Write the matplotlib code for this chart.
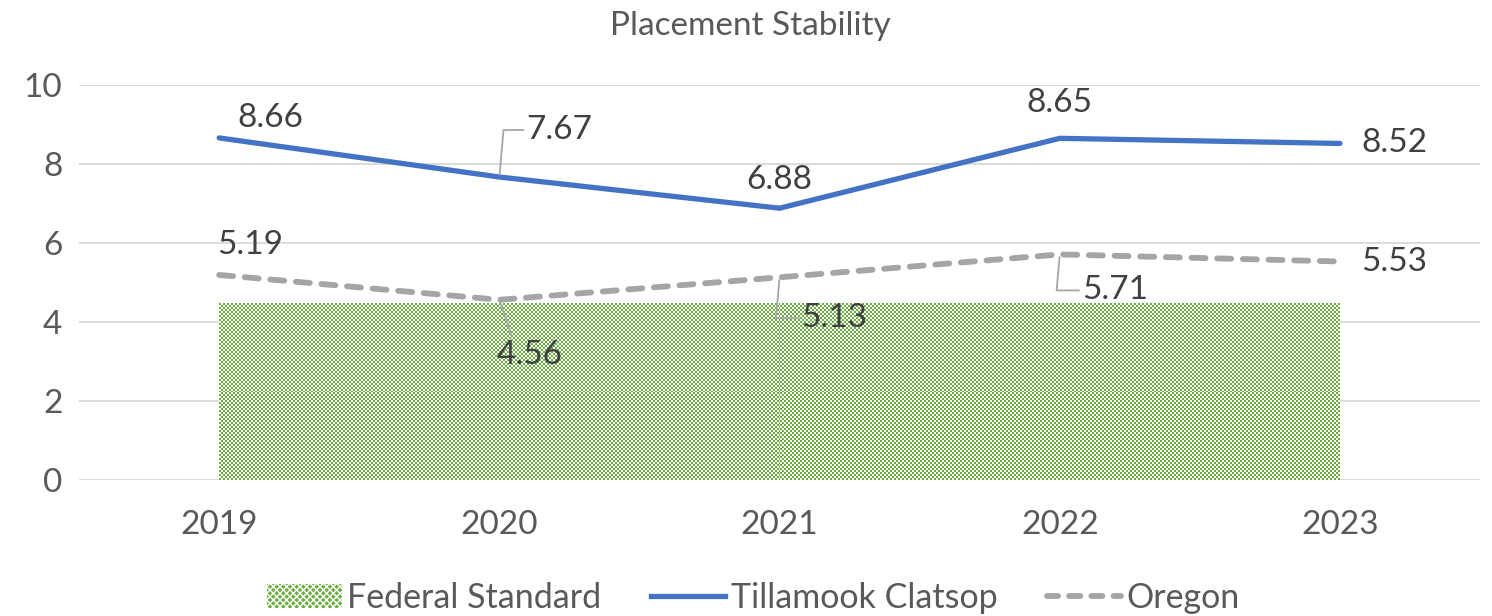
import numpy as np
import matplotlib
matplotlib.use("Agg")
import matplotlib.pyplot as plt
from matplotlib.patches import Patch
from matplotlib.lines import Line2D
from matplotlib.colors import ListedColormap

years = ["2019", "2020", "2021", "2022", "2023"]
federal_standard = [4.48, 4.48, 4.48, 4.48, 4.48]
tillamook = [8.66, 7.67, 6.88, 8.65, 8.52]
oregon = [5.19, 4.56, 5.13, 5.71, 5.53]
yticks = [0, 2, 4, 6, 8, 10]

plt.rcParams['font.family'] = ['Lato', 'DejaVu Sans']
TXT = '#404040'
TICK = '#595959'
GREEN = '#70AD47'
BLUE = '#4472C4'
GRAY = '#A5A5A5'
FS = 24

fig = plt.figure(figsize=(14.92, 6.16), dpi=100)
ax = fig.add_axes([0.053, 0.221, 0.939, 0.641])
x = np.arange(len(years))

# Federal standard area with checker texture
poly = ax.fill_between(x, 0, federal_standard, facecolor='none', edgecolor='none', linewidth=0, zorder=1)
nx, ny = 561, 89
ii, jj = np.indices((ny, nx))
checker = ((ii + jj) % 2).astype(float)
cmap = ListedColormap(['#6AAA40', '#ffffff'])
im = ax.imshow(checker, cmap=cmap, extent=(x[0], x[-1], 0, max(federal_standard)),
               aspect='auto', interpolation='nearest', zorder=1)
im.set_clip_path(poly.get_paths()[0], transform=ax.transData)

ax.plot(x, tillamook, color=BLUE, lw=3.8, solid_capstyle='round', zorder=3)
ax.plot(x, oregon, color=GRAY, lw=4.2, dashes=(2.4, 2.0), dash_capstyle='round', zorder=3)

ax.set_xlim(-0.5, len(years) - 0.5)
ax.set_ylim(0, 10)
ax.set_yticks(yticks)
ax.set_xticks(x)
ax.set_xticklabels(years)
ax.grid(axis='y', color='#D9D9D9', lw=1.3, zorder=0)
ax.set_axisbelow(True)
for s in ax.spines.values():
    s.set_visible(False)
ax.tick_params(length=0, labelsize=FS, colors=TICK, pad=12)
ax.tick_params(axis='x', pad=22)

lead = dict(arrowstyle='-', color='#A6A6A6', lw=1.3, shrinkA=0, shrinkB=2)

# Tillamook labels (offsets in pixels)
t_off = [(51, 20), (60, 47), (0, 28), (0, 35), (54, 0)]
for i, (v, off) in enumerate(zip(tillamook, t_off)):
    kw = {}
    if i == 1:
        kw['arrowprops'] = dict(lead, relpos=(0, 0.5), connectionstyle='angle,angleA=0,angleB=85,rad=0')
    ax.annotate(f"{v:.2f}", (x[i], v), xytext=off, textcoords='offset pixels',
                ha='center', va='center', fontsize=FS, color=TXT, zorder=4, **kw)

o_off = [(31, 30), (30, -55), (55, -41), (55, -36), (54, 0)]
for i, (v, off) in enumerate(zip(oregon, o_off)):
    kw = {}
    if i == 1:
        kw['arrowprops'] = dict(lead, relpos=(0.25, 1.0))
    elif i in (2, 3):
        kw['arrowprops'] = dict(lead, relpos=(0, 0.5), connectionstyle='angle,angleA=0,angleB=85,rad=0')
    ax.annotate(f"{v:.2f}", (x[i], v), xytext=off, textcoords='offset pixels',
                ha='center', va='center', fontsize=FS, color=TXT, zorder=4, **kw)

fig.text(0.503, 0.958, "Placement Stability", ha='center', va='center', fontsize=24, color=TICK)

handles = [Patch(facecolor=GREEN, edgecolor='white', hatch='xxxxx', linewidth=0),
           Line2D([], [], color=BLUE, lw=3.8),
           Line2D([], [], color=GRAY, lw=4.2, dashes=(1.9, 1.9), dash_capstyle='round')]
fig.legend(handles, ["Federal Standard", "Tillamook Clatsop", "Oregon"],
           loc='center', bbox_to_anchor=(0.505, 0.03), ncol=3, frameon=False,
           fontsize=24.5, labelcolor=TICK, handlelength=2.2, handletextpad=0.15,
           columnspacing=1.45)

fig.savefig("out.png", dpi=100, facecolor='white')
